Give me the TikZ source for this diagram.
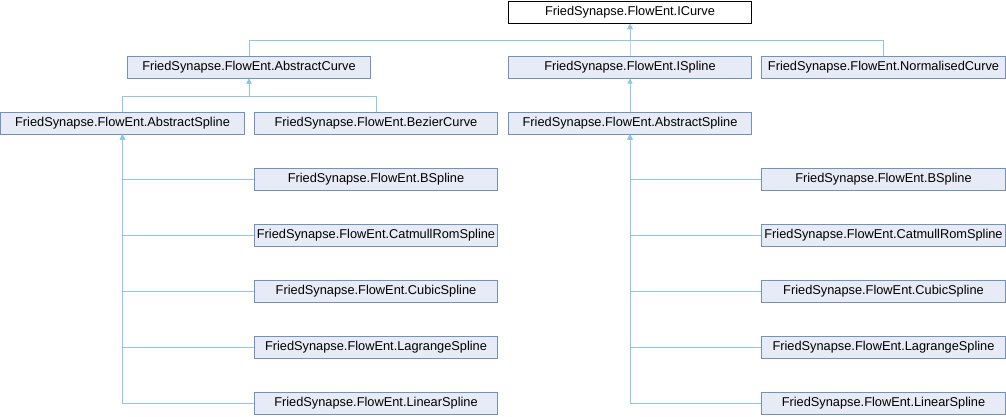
\documentclass[tikz,border=0pt]{standalone}
\usepackage{fontspec}
\setmainfont{Liberation Sans}
\usetikzlibrary{arrows.meta,positioning,calc}
\definecolor{edgeblue}{HTML}{8CC6EA}
\definecolor{boxfill}{HTML}{E7EBF5}
\definecolor{boxline}{HTML}{7090C8}

\begin{document}
\begin{tikzpicture}[x=0.025cm,y=-0.025cm,
    cls/.style={draw=boxline,fill=boxfill,line width=0.7pt,minimum width=6.075cm,
      minimum height=0.55cm,inner sep=0pt,font=\fontsize{9.1}{11}\selectfont},
    top/.style={cls,draw=black,fill=white},
    inh/.style={draw=edgeblue,line width=0.7pt,-{Triangle[width=3.6pt,length=3.6pt]}}]
    \useasboundingbox (0,0) rectangle (1006,416);
    % interface and first level
    \node[top] (icurve) at (630,12.5) {FriedSynapse.FlowEnt.ICurve};
    \node[cls] (abscurve) at (249,67) {FriedSynapse.FlowEnt.AbstractCurve};
    \node[cls] (ispline) at (630,67) {FriedSynapse.FlowEnt.ISpline};
    \node[cls] (normcurve) at (883.5,67) {FriedSynapse.FlowEnt.NormalisedCurve};
    % second level
    \node[cls] (absspline) at (122.5,123) {FriedSynapse.FlowEnt.AbstractSpline};
    \node[cls] (bezier) at (376,123) {FriedSynapse.FlowEnt.BezierCurve};
    \node[cls] (absspline2) at (630,123) {FriedSynapse.FlowEnt.AbstractSpline};
    % edges upward
    \coordinate (jtop) at (630,40);
    \foreach \n in {abscurve,ispline,normcurve}
      \draw[inh] (\n.north) |- (jtop) -- (icurve.south);
    \coordinate (jmid) at (249,96);
    \foreach \n in {absspline,bezier}
      \draw[inh] (\n.north) |- (jmid) -- (abscurve.south);
    \draw[inh] (absspline2.north) -- (ispline.south);
    % concrete splines
    \foreach \y/\lab [count=\i] in {179/BSpline,235/CatmullRomSpline,291/CubicSpline,347/LagrangeSpline,403/LinearSpline}{
      \node[cls] (l\i) at (376,\y) {FriedSynapse.FlowEnt.\lab};
      \node[cls] (r\i) at (883.5,\y) {FriedSynapse.FlowEnt.\lab};
      \draw[inh] (l\i.west) -| (absspline.south);
      \draw[inh] (r\i.west) -| (absspline2.south);}
  \end{tikzpicture}
\end{document}
